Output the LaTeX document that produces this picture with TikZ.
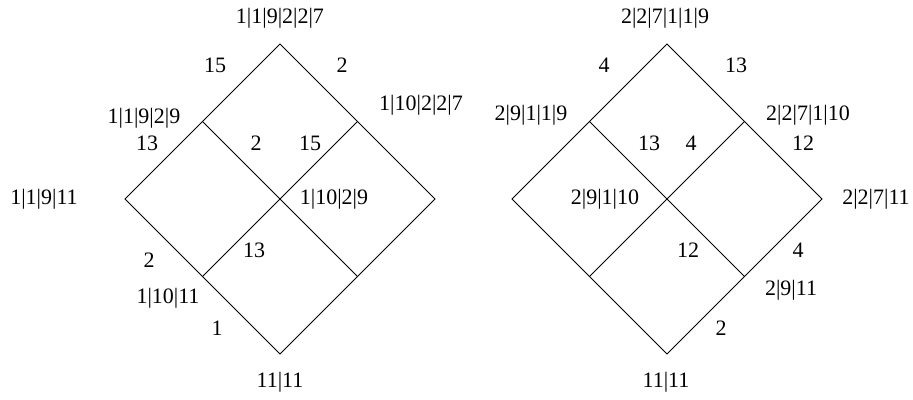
\documentclass[tikz,border=0pt]{standalone}
\usepackage{fontspec}
\setmainfont{Liberation Serif}
\usetikzlibrary{positioning}

\begin{document}
\begin{tikzpicture}[
  x=0.5pt, y=-0.5pt,
  edge/.style={draw=black, line width=0.5pt},
  lbl/.style={font=\fontsize{11}{13}\selectfont, inner sep=0pt}
]
\useasboundingbox (0,0) rectangle (913,400);

% left lattice
\coordinate (ltop)   at (280,44);
\coordinate (lleft)  at (125,199);
\coordinate (lright) at (435,199);
\coordinate (lbot)   at (280,354);
\coordinate (lul)    at (202.5,121.5);
\coordinate (lur)    at (357.5,121.5);
\coordinate (lll)    at (202.5,276.5);
\coordinate (llr)    at (357.5,276.5);

\draw[edge] (ltop) -- (lright) -- (lbot) -- (lleft) -- cycle;
\draw[edge] (lul) -- (llr);
\draw[edge] (lur) -- (lll);

\node[lbl] (ltopl)   at (280,18)  {1|1|9|2|2|7};
\node[lbl] (lulw)    at (215,65)  {15};
\node[lbl] (lurw)    at (342,65)  {2};
\node[lbl] (lull)    at (144,118) {1|1|9|2|9};
\node[lbl] (lulw2)   at (147,143) {13};
\node[lbl] (lurl)    at (421,105) {1|10|2|2|7};
\node[lbl] (lin1)    at (256,143) {2};
\node[lbl] (lin2)    at (310,143) {15};
\node[lbl] (lleftl)  at (44,199)  {1|1|9|11};
\node[lbl] (lmidl)   at (334,199) {1|10|2|9};
\node[lbl] (lllw)    at (149,260) {2};
\node[lbl] (lin3)    at (254,250) {13};
\node[lbl] (llll)    at (168,298) {1|10|11};
\node[lbl] (lbotw)   at (217,328) {1};
\node[lbl] (lbotl)   at (280,382) {11|11};

% right lattice
\coordinate (rtop)   at (667,44);
\coordinate (rleft)  at (512,199);
\coordinate (rright) at (822,199);
\coordinate (rbot)   at (667,354);
\coordinate (rul)    at (589.5,121.5);
\coordinate (rur)    at (744.5,121.5);
\coordinate (rll)    at (589.5,276.5);
\coordinate (rlr)    at (744.5,276.5);

\draw[edge] (rtop) -- (rright) -- (rbot) -- (rleft) -- cycle;
\draw[edge] (rul) -- (rlr);
\draw[edge] (rur) -- (rll);

\node[lbl] (rtopl)   at (665,18)  {2|2|7|1|1|9};
\node[lbl] (rulw)    at (604,65)  {4};
\node[lbl] (rurw)    at (736,65)  {13};
\node[lbl] (rull)    at (531,115) {2|9|1|1|9};
\node[lbl] (rurl)    at (808,115) {2|2|7|1|10};
\node[lbl] (rin1)    at (649,143) {13};
\node[lbl] (rin2)    at (691,143) {4};
\node[lbl] (rurw2)   at (803,143) {12};
\node[lbl] (rmidl)   at (605,199) {2|9|1|10};
\node[lbl] (rrightl) at (876,199) {2|2|7|11};
\node[lbl] (rin3)    at (688,250) {12};
\node[lbl] (rlrw)    at (798,250) {4};
\node[lbl] (rlrl)    at (791,290) {2|9|11};
\node[lbl] (rbotw)   at (721,328) {2};
\node[lbl] (rbotl)   at (666,382) {11|11};

\end{tikzpicture}
\end{document}
